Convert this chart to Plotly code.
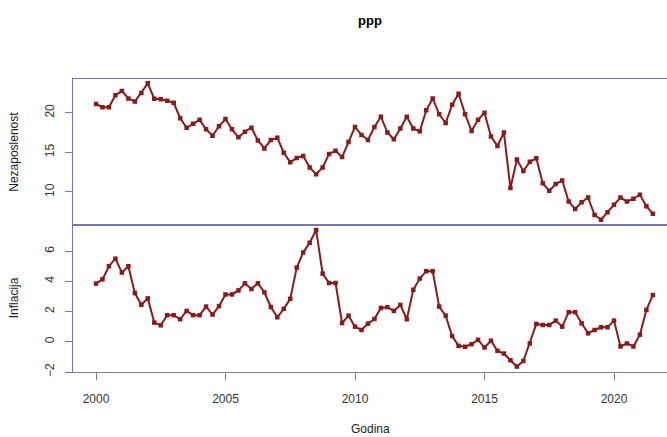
import plotly.graph_objects as go

start_year = 2000
n_quarters = 87
godina = [start_year + q / 4 for q in range(n_quarters)]

nezaposlenost = [21.1, 20.7, 20.7, 22.2, 22.75, 21.8, 21.4, 22.5, 23.7, 21.75, 21.7, 21.5, 21.25,
                 19.3, 18.1, 18.6, 19.1, 17.9, 17.1, 18.3, 19.2, 17.9, 16.9, 17.6, 18.1, 16.5, 15.5,
                 16.55, 16.85, 14.95, 13.75, 14.3, 14.55, 13.1, 12.25, 13.1, 14.8, 15.2, 14.4, 16.3,
                 18.2, 17.2, 16.55, 18.2, 19.5, 17.5, 16.65, 18.0, 19.5, 18.0, 17.65, 20.3, 21.8,
                 19.8, 18.7, 21.0, 22.4, 19.8, 17.7, 19.1, 20.0, 17.0, 15.8, 17.5, 10.5, 14.1, 12.65,
                 13.8, 14.25, 11.1, 10.15, 11.0, 11.45, 8.8, 7.85, 8.7, 9.3, 7.1, 6.5, 7.45, 8.4, 9.3,
                 8.8, 9.15, 9.65, 8.2, 7.25]

inflacija = [3.85, 4.13, 5.0, 5.5, 4.58, 5.0, 3.22, 2.45, 2.87, 1.27, 1.09, 1.76, 1.76, 1.49, 2.04,
             1.76, 1.76, 2.33, 1.8, 2.36, 3.13, 3.13, 3.4, 3.87, 3.49, 3.87, 3.27, 2.3, 1.62, 2.18,
             2.84, 4.91, 5.91, 6.56, 7.4, 4.51, 3.89, 3.89, 1.24, 1.73, 1.0, 0.78, 1.2, 1.51, 2.24,
             2.29, 2.04, 2.44, 1.49, 3.44, 4.18, 4.67, 4.67, 2.33, 1.73, 0.38, -0.27, -0.33, -0.16,
             0.13, -0.38, 0.07, -0.6, -0.78, -1.22, -1.64, -1.27, -0.11, 1.18, 1.11, 1.11, 1.4, 1.0,
             1.96, 1.96, 1.22, 0.56, 0.78, 0.96, 0.96, 1.4, -0.31, -0.11, -0.31, 0.47, 2.11, 3.09]

x_ticks = [2000, 2005, 2010, 2015, 2020]
y1_ticks = [10, 15, 20]
y2_ticks = [-2, 0, 2, 4, 6]

LINE = "#8B1A1A"
FRAME = "#7878B4"
FONT = "Liberation Sans, Arial, sans-serif"

fig = go.Figure()
fig.add_trace(go.Scatter(x=godina, y=nezaposlenost, mode="lines+markers",
                         line=dict(color=LINE, width=2),
                         marker=dict(symbol="square", size=4.5, color=LINE),
                         xaxis="x", yaxis="y", showlegend=False))
fig.add_trace(go.Scatter(x=godina, y=inflacija, mode="lines+markers",
                         line=dict(color=LINE, width=2),
                         marker=dict(symbol="square", size=4.5, color=LINE),
                         xaxis="x2", yaxis="y2", showlegend=False))

split = 147.5 / 293
xr = [1999.112, 2022.046]

fig.update_layout(
    width=667, height=437,
    margin=dict(l=73, r=0, t=79, b=65),
    paper_bgcolor="white", plot_bgcolor="white",
    font=dict(family=FONT, size=12, color="#333333"),
    title=dict(text="<b>ppp</b>", x=0.5, xref="paper", xanchor="center",
               y=1 - 20 / 437, yanchor="middle", font=dict(size=13, color="#000000")),
    xaxis=dict(domain=[0, 1], range=xr, anchor="y", showticklabels=False, ticks="",
               showgrid=False, zeroline=False, showline=True, mirror=True,
               linecolor=FRAME, linewidth=1.2),
    yaxis=dict(domain=[split, 1], range=[5.9, 24.25], tickvals=y1_ticks, ticks="outside",
               ticklen=7, tickcolor=FRAME, tickangle=-90, showgrid=False, zeroline=False,
               showline=True, linecolor=FRAME, linewidth=1.2, ticklabelstandoff=6),
    xaxis2=dict(domain=[0, 1], range=xr, anchor="y2", tickvals=x_ticks, ticks="outside",
                ticklen=7, tickcolor=FRAME, showgrid=False, zeroline=False, showline=True,
                mirror=True, linecolor=FRAME, linewidth=1.2, ticklabelstandoff=8),
    yaxis2=dict(domain=[0, split], range=[-2.0, 7.76], tickvals=y2_ticks, ticks="outside",
                ticklen=7, tickcolor=FRAME, tickangle=-90, showgrid=False, zeroline=False,
                showline=True, linecolor=FRAME, linewidth=1.2, anchor="x2", ticklabelstandoff=6),
    annotations=[
        dict(text="Nezaposlenost", xref="paper", yref="paper", x=0, y=(split + 1) / 2,
             xshift=-59, textangle=-90, showarrow=False, xanchor="center", yanchor="middle",
             font=dict(size=12, color="#222222")),
        dict(text="Inflacija", xref="paper", yref="paper", x=0, y=split / 2,
             xshift=-59, textangle=-90, showarrow=False, xanchor="center", yanchor="middle",
             font=dict(size=12, color="#222222")),
        dict(text="Godina", xref="paper", yref="paper", x=0.5, y=0, yshift=-57,
             showarrow=False, xanchor="center", yanchor="middle",
             font=dict(size=12, color="#222222")),
    ],
)

fig.write_html("out.html", config={"displayModeBar": False},
               post_script="document.body.style.margin='0px';document.body.style.overflow='hidden';")
